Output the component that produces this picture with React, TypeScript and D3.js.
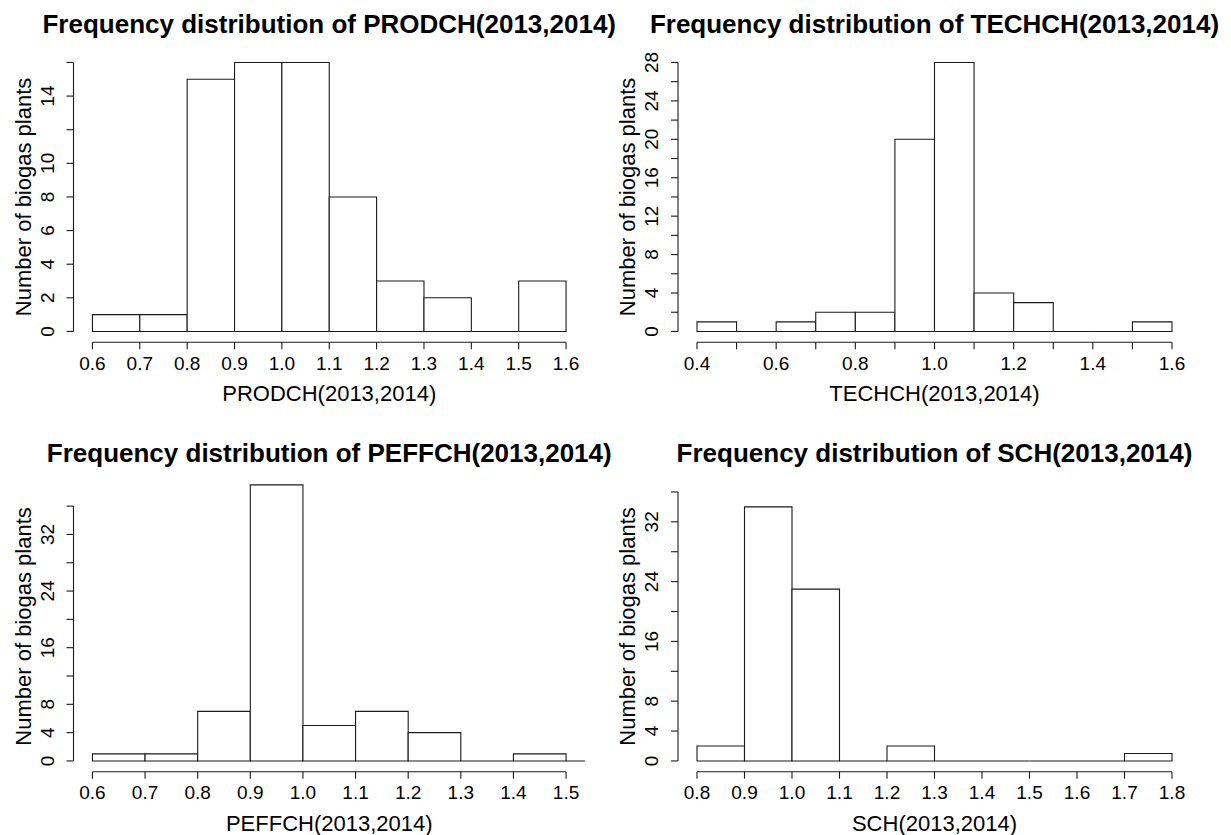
import * as d3 from "d3";

// --- data (bin edges + counts per histogram) ---
const prodchBreaks = [0.6, 0.7, 0.8, 0.9, 1.0, 1.1, 1.2, 1.3, 1.4, 1.5, 1.6];
const prodchCounts = [1, 1, 15, 16, 16, 8, 3, 2, 0, 3];

const techchBreaks = [0.4, 0.5, 0.6, 0.7, 0.8, 0.9, 1.0, 1.1, 1.2, 1.3, 1.4, 1.5, 1.6];
const techchCounts = [1, 0, 1, 2, 2, 20, 28, 4, 3, 0, 0, 1];

const peffchBreaks = [0.6, 0.7, 0.8, 0.9, 1.0, 1.1, 1.2, 1.3, 1.4, 1.5, 1.6];
const peffchCounts = [1, 1, 7, 39, 5, 7, 4, 0, 1, 0];

const schBreaks = [0.8, 0.9, 1.0, 1.1, 1.2, 1.3, 1.4, 1.5, 1.6, 1.7, 1.8];
const schCounts = [2, 34, 23, 0, 2, 0, 0, 0, 0, 1];

const prodchXTicks = [0.6, 0.7, 0.8, 0.9, 1.0, 1.1, 1.2, 1.3, 1.4, 1.5, 1.6];
const techchXTicks = [0.4, 0.5, 0.6, 0.7, 0.8, 0.9, 1.0, 1.1, 1.2, 1.3, 1.4, 1.5, 1.6];
const techchXLabels = [0.4, 0.6, 0.8, 1.0, 1.2, 1.4, 1.6];
const peffchXTicks = [0.6, 0.7, 0.8, 0.9, 1.0, 1.1, 1.2, 1.3, 1.4, 1.5];
const schXTicks = [0.8, 0.9, 1.0, 1.1, 1.2, 1.3, 1.4, 1.5, 1.6, 1.7, 1.8];

const prodchYTicks = [0, 2, 4, 6, 8, 10, 12, 14, 16];
const prodchYLabels = [0, 2, 4, 6, 8, 10, 14];
const techchYTicks = [0, 2, 4, 6, 8, 10, 12, 14, 16, 18, 20, 22, 24, 26, 28];
const techchYLabels = [0, 4, 8, 12, 16, 20, 24, 28];
const peffchYTicks = [0, 4, 8, 12, 16, 20, 24, 28, 32, 36];
const peffchYLabels = [0, 4, 8, 16, 24, 32];
const schYTicks = [0, 4, 8, 12, 16, 20, 24, 28, 32, 36];
const schYLabels = [0, 4, 8, 16, 24, 32];

const FONT = "'Liberation Sans', Arial, Helvetica, sans-serif";
const INK = "#1a1a1a";

interface HistProps {
  id: string;
  name: string;
  breaks: number[];
  counts: number[];
  xlim: [number, number];
  ylim: [number, number];
  xTicks: number[];
  xLabels: number[];
  yTicks: number[];
  yLabels: number[];
  left: number;
  right: number;
  top: number;
  bottom: number;
}

function Histogram(p: Readonly<HistProps>) {
  // R-style axes: 4% padding on both sides of the limits
  const xPad = (p.xlim[1] - p.xlim[0]) * 0.04;
  const yPad = (p.ylim[1] - p.ylim[0]) * 0.04;
  const x = d3
    .scaleLinear()
    .domain([p.xlim[0] - xPad, p.xlim[1] + xPad])
    .range([p.left, p.right]);
  const y = d3
    .scaleLinear()
    .domain([p.ylim[0] - yPad, p.ylim[1] + yPad])
    .range([p.bottom, p.top]);

  const bins = p.counts.map((c, i) => ({ x0: p.breaks[i], x1: p.breaks[i + 1], c }));

  // cada barra como path cerrado, asi las de altura 0 quedan como linea
  const barPath = (b: { x0: number; x1: number; c: number }) => {
    const path = d3.path();
    path.moveTo(x(b.x0), y(0));
    path.lineTo(x(b.x0), y(b.c));
    path.lineTo(x(b.x1), y(b.c));
    path.lineTo(x(b.x1), y(0));
    path.closePath();
    return path.toString();
  };

  const cx = (p.left + p.right) / 2;
  const cy = (p.top + p.bottom) / 2;
  const fmt = d3.format(".1f");
  const xFirst = x(p.xTicks[0]);
  const xLast = x(p.xTicks[p.xTicks.length - 1]);
  const yFirst = y(p.yTicks[0]);
  const yLast = y(p.yTicks[p.yTicks.length - 1]);

  return (
    <g>
      <defs>
        <clipPath id={`clip-${p.id}`}>
          <rect x={p.left} y={p.top - 4} width={p.right - p.left} height={p.bottom - p.top + 4} />
        </clipPath>
      </defs>

      {/* titulo */}
      <text
        x={cx}
        y={p.top - 19}
        textAnchor="middle"
        fontFamily={FONT}
        fontWeight="bold"
        fontSize={26}
        fill="#000"
      >
        {`Frequency distribution of ${p.name}(2013,2014)`}
      </text>

      {/* barras */}
      <g clipPath={`url(#clip-${p.id})`}>
        {bins.map((b, i) => (
          <path
            key={i}
            d={barPath(b)}
            fill="#fff"
            stroke={INK}
            strokeWidth={1.1}
          />
        ))}
      </g>

      {/* eje X */}
      <line x1={xFirst} x2={xLast} y1={p.bottom} y2={p.bottom} stroke={INK} strokeWidth={1.1} />
      {p.xTicks.map((t) => (
        <line key={t} x1={x(t)} x2={x(t)} y1={p.bottom} y2={p.bottom + 7} stroke={INK} strokeWidth={1.1} />
      ))}
      {p.xLabels.map((t) => (
        <text
          key={t}
          x={x(t)}
          y={p.bottom + 27.5}
          textAnchor="middle"
          fontFamily={FONT}
          fontSize={19}
          fill="#000"
        >
          {fmt(t)}
        </text>
      ))}
      <text
        x={cx}
        y={p.bottom + 59}
        textAnchor="middle"
        fontFamily={FONT}
        fontSize={22}
        fill="#000"
      >
        {`${p.name}(2013,2014)`}
      </text>

      {/* eje Y */}
      <line x1={p.left} x2={p.left} y1={yFirst} y2={yLast} stroke={INK} strokeWidth={1.1} />
      {p.yTicks.map((t) => (
        <line key={t} x1={p.left - 7} x2={p.left} y1={y(t)} y2={y(t)} stroke={INK} strokeWidth={1.1} />
      ))}
      {p.yLabels.map((t) => (
        <text
          key={t}
          transform={`translate(${p.left - 20},${y(t)}) rotate(-90)`}
          textAnchor="middle"
          fontFamily={FONT}
          fontSize={19}
          fill="#000"
        >
          {t}
        </text>
      ))}
      <text
        transform={`translate(${p.left - 43},${cy}) rotate(-90)`}
        textAnchor="middle"
        fontFamily={FONT}
        fontSize={22}
        fill="#000"
      >
        Number of biogas plants
      </text>
    </g>
  );
}

export default function App() {
  const width = 1231;
  const height = 835;
  const colL = { left: 73.5, right: 585 };
  const colR = { left: 678, right: 1191 };
  const rowT = { top: 51.7, bottom: 342.2 };
  const rowB = { top: 481.2, bottom: 771.7 };

  return (
    <svg
      width={width}
      height={height}
      style={{ position: "absolute", left: 0, top: 0, background: "#fff" }}
    >
      <rect width={width} height={height} fill="#fff" />
      <Histogram
        id="prodch"
        name="PRODCH"
        breaks={prodchBreaks}
        counts={prodchCounts}
        xlim={[0.6, 1.6]}
        ylim={[0, 16]}
        xTicks={prodchXTicks}
        xLabels={prodchXTicks}
        yTicks={prodchYTicks}
        yLabels={prodchYLabels}
        {...colL}
        {...rowT}
      />
      <Histogram
        id="techch"
        name="TECHCH"
        breaks={techchBreaks}
        counts={techchCounts}
        xlim={[0.4, 1.6]}
        ylim={[0, 28]}
        xTicks={techchXTicks}
        xLabels={techchXLabels}
        yTicks={techchYTicks}
        yLabels={techchYLabels}
        {...colR}
        {...rowT}
      />
      <Histogram
        id="peffch"
        name="PEFFCH"
        breaks={peffchBreaks}
        counts={peffchCounts}
        xlim={[0.6, 1.5]}
        ylim={[0, 38]}
        xTicks={peffchXTicks}
        xLabels={peffchXTicks}
        yTicks={peffchYTicks}
        yLabels={peffchYLabels}
        {...colL}
        {...rowB}
      />
      <Histogram
        id="sch"
        name="SCH"
        breaks={schBreaks}
        counts={schCounts}
        xlim={[0.8, 1.8]}
        ylim={[0, 36]}
        xTicks={schXTicks}
        xLabels={schXTicks}
        yTicks={schYTicks}
        yLabels={schYLabels}
        {...colR}
        {...rowB}
      />
    </svg>
  );
}
